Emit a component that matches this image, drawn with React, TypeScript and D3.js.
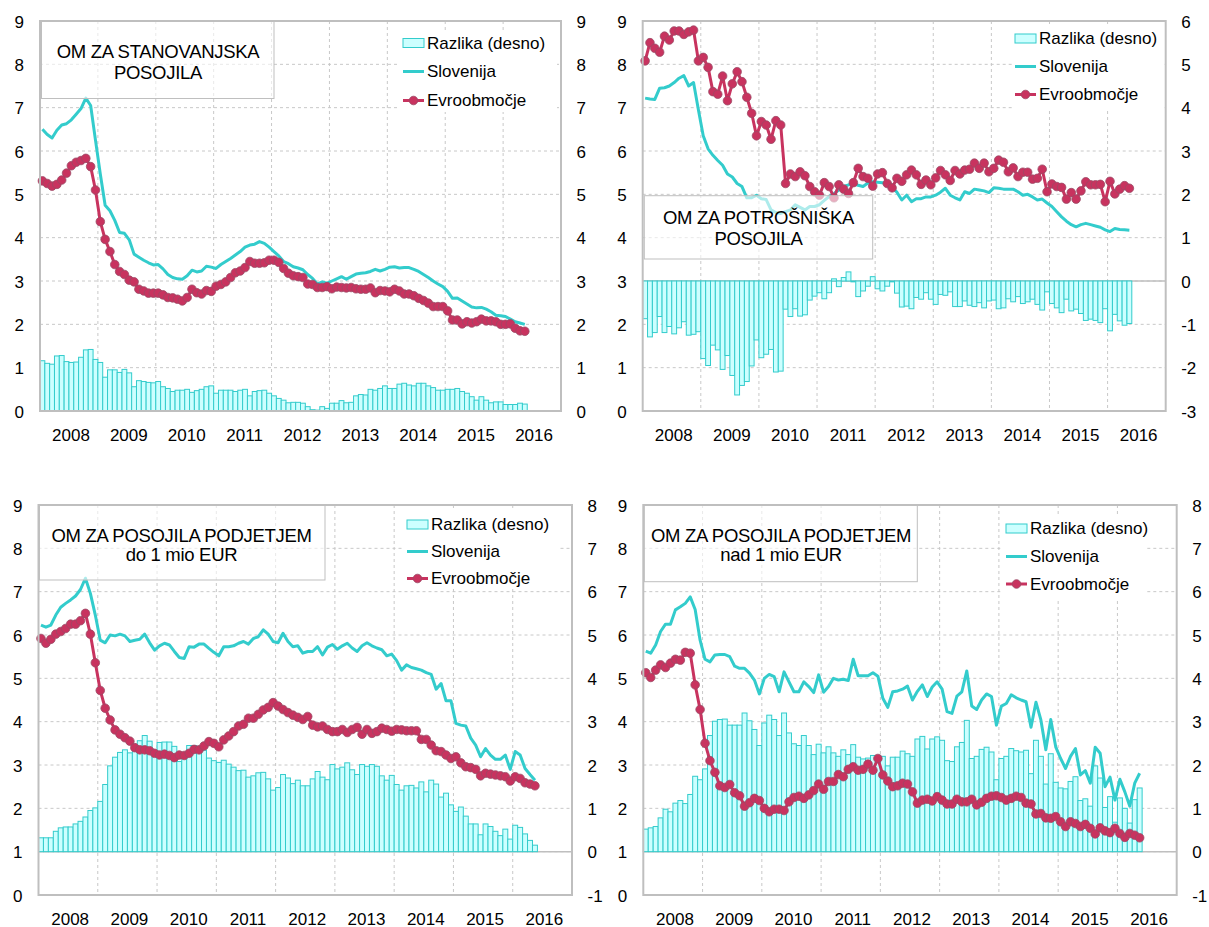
import React from 'react';
import * as d3 from 'd3';

// ---------- categories / ticks ----------
const YEARS = ['2008', '2009', '2010', '2011', '2012', '2013', '2014', '2015', '2016'];
const MONTHS_PER_YEAR = 12;
const LEFT_TICKS = [0, 1, 2, 3, 4, 5, 6, 7, 8, 9];
const RIGHT_TICKS_1 = [0, 1, 2, 3, 4, 5, 6, 7, 8, 9];
const RIGHT_TICKS_2 = [-3, -2, -1, 0, 1, 2, 3, 4, 5, 6];
const RIGHT_TICKS_3 = [-1, 0, 1, 2, 3, 4, 5, 6, 7, 8];
const RIGHT_TICKS_4 = [-1, 0, 1, 2, 3, 4, 5, 6, 7, 8];
const LEGEND_LABELS = ['Razlika (desno)', 'Slovenija', 'Evroobmočje'];
const TITLE_1 = ['OM ZA STANOVANJSKA', 'POSOJILA'];
const TITLE_2 = ['OM ZA POTROŠNIŠKA', 'POSOJILA'];
const TITLE_3 = ['OM ZA POSOJILA PODJETJEM', 'do 1 mio EUR'];
const TITLE_4 = ['OM ZA POSOJILA PODJETJEM', 'nad 1 mio EUR'];

// ---------- panel 1: stanovanjska posojila (Jan 2008 - May 2016) ----------
const P1_SLO = [6.50, 6.38, 6.30, 6.48, 6.60, 6.63, 6.72, 6.85, 6.98, 7.22, 7.05, 6.25, 5.47, 4.75, 4.62, 4.40, 4.12, 4.10, 3.95, 3.62,
  3.55, 3.48, 3.42, 3.37, 3.38, 3.28, 3.15, 3.08, 3.05, 3.04, 3.12, 3.25, 3.21, 3.23, 3.34, 3.32, 3.29, 3.38, 3.45, 3.52,
  3.60, 3.68, 3.78, 3.83, 3.85, 3.91, 3.87, 3.78, 3.68, 3.58, 3.45, 3.40, 3.33, 3.30, 3.26, 3.15, 3.06, 2.93, 2.98, 2.95,
  3.00, 3.05, 3.10, 3.04, 3.10, 3.16, 3.18, 3.19, 3.22, 3.27, 3.23, 3.27, 3.32, 3.33, 3.30, 3.31, 3.31, 3.27, 3.22, 3.15,
  3.08, 3.00, 2.93, 2.87, 2.76, 2.60, 2.61, 2.54, 2.47, 2.40, 2.38, 2.39, 2.35, 2.29, 2.21, 2.20, 2.18, 2.12, 2.06, 2.03, 2.00];
const P1_EVRO = [5.31, 5.25, 5.19, 5.23, 5.33, 5.49, 5.66, 5.74, 5.78, 5.83, 5.64, 5.10, 4.37, 3.96, 3.68, 3.38, 3.22, 3.15, 3.02, 2.98,
  2.81, 2.77, 2.72, 2.72, 2.72, 2.68, 2.62, 2.61, 2.58, 2.54, 2.62, 2.81, 2.73, 2.70, 2.78, 2.76, 2.88, 2.92, 2.98, 3.08,
  3.19, 3.23, 3.31, 3.45, 3.41, 3.41, 3.42, 3.48, 3.48, 3.43, 3.29, 3.18, 3.12, 3.10, 3.08, 2.93, 2.92, 2.85, 2.85, 2.87,
  2.82, 2.86, 2.85, 2.84, 2.85, 2.82, 2.81, 2.81, 2.84, 2.73, 2.78, 2.77, 2.75, 2.81, 2.77, 2.70, 2.70, 2.66, 2.60, 2.55,
  2.49, 2.41, 2.41, 2.41, 2.31, 2.10, 2.10, 2.01, 2.06, 2.03, 2.06, 2.12, 2.08, 2.08, 2.06, 2.00, 2.00, 2.01, 1.91, 1.85, 1.84];
const P1_DIFF = [1.16, 1.10, 1.08, 1.27, 1.28, 1.14, 1.12, 1.13, 1.24, 1.41, 1.42, 1.19, 1.12, 0.78, 0.95, 0.95, 0.89, 0.96, 0.88, 0.56,
  0.70, 0.68, 0.66, 0.65, 0.68, 0.56, 0.52, 0.45, 0.48, 0.48, 0.50, 0.43, 0.47, 0.50, 0.56, 0.58, 0.41, 0.48, 0.48, 0.48,
  0.45, 0.48, 0.50, 0.35, 0.45, 0.47, 0.48, 0.41, 0.35, 0.29, 0.25, 0.19, 0.20, 0.20, 0.18, 0.10, 0.03, 0.02, 0.10, 0.06,
  0.18, 0.18, 0.24, 0.19, 0.20, 0.35, 0.38, 0.37, 0.50, 0.48, 0.52, 0.58, 0.52, 0.52, 0.62, 0.64, 0.60, 0.58, 0.64, 0.64,
  0.58, 0.54, 0.48, 0.48, 0.50, 0.50, 0.52, 0.45, 0.41, 0.33, 0.25, 0.33, 0.25, 0.19, 0.21, 0.21, 0.15, 0.15, 0.15, 0.18, 0.16];

// ---------- panel 2: potrošniška posojila ----------
const P2_SLO = [7.22, 7.20, 7.19, 7.45, 7.46, 7.50, 7.58, 7.68, 7.74, 7.50, 7.58, 6.95, 6.35, 6.05, 5.90, 5.78, 5.67, 5.47, 5.40, 5.25,
  5.18, 4.92, 4.92, 4.98, 4.90, 4.88, 4.64, 4.58, 4.56, 4.60, 4.64, 4.76, 4.70, 4.64, 4.72, 4.72, 4.76, 4.86, 4.95, 5.02,
  5.10, 5.18, 5.22, 5.24, 5.21, 5.18, 5.26, 5.29, 5.28, 5.27, 5.22, 5.15, 5.05, 4.87, 4.98, 4.83, 4.90, 4.90, 4.94, 4.94,
  4.98, 5.05, 5.14, 4.98, 4.92, 4.87, 5.06, 5.02, 5.12, 5.10, 5.08, 5.04, 5.15, 5.14, 5.12, 5.12, 5.12, 5.06, 4.98, 5.00,
  4.94, 4.87, 4.89, 4.80, 4.72, 4.60, 4.48, 4.38, 4.30, 4.25, 4.30, 4.33, 4.30, 4.27, 4.24, 4.18, 4.14, 4.21, 4.19, 4.18, 4.17];
const P2_EVRO = [8.08, 8.50, 8.37, 8.28, 8.65, 8.56, 8.77, 8.77, 8.69, 8.75, 8.79, 8.08, 8.16, 7.93, 7.37, 7.31, 7.73, 7.16, 7.55, 7.83,
  7.60, 7.24, 6.87, 6.35, 6.68, 6.60, 6.27, 6.70, 6.60, 5.25, 5.47, 5.41, 5.52, 5.43, 5.18, 5.06, 4.98, 5.27, 5.18, 4.92,
  5.22, 5.12, 5.02, 5.27, 5.60, 5.41, 5.37, 5.19, 5.47, 5.50, 5.25, 5.15, 5.37, 5.30, 5.45, 5.56, 5.45, 5.23, 5.33, 5.22,
  5.38, 5.55, 5.45, 5.32, 5.55, 5.47, 5.56, 5.58, 5.72, 5.60, 5.72, 5.52, 5.60, 5.79, 5.74, 5.52, 5.61, 5.41, 5.51, 5.51,
  5.35, 5.37, 5.58, 5.06, 5.24, 5.18, 5.16, 4.89, 5.04, 4.89, 5.08, 5.29, 5.22, 5.22, 5.23, 4.83, 5.30, 5.01, 5.12, 5.20, 5.14];
const P2_DIFF = [-0.87, -1.29, -1.19, -0.82, -1.19, -1.05, -1.22, -1.08, -0.94, -1.25, -1.23, -1.17, -1.79, -1.95, -1.48, -1.59, -2.04, -1.72, -2.18, -2.63,
  -2.41, -2.32, -1.96, -1.36, -1.77, -1.69, -1.58, -2.10, -2.08, -0.65, -0.82, -0.64, -0.81, -0.78, -0.44, -0.35, -0.27, -0.41, -0.27, 0.05,
  -0.13, 0.08, 0.21, -0.02, -0.36, -0.23, -0.12, 0.10, -0.18, -0.23, -0.12, -0.02, -0.28, -0.60, -0.58, -0.64, -0.38, -0.42, -0.27, -0.42,
  -0.54, -0.31, -0.33, -0.25, -0.59, -0.59, -0.46, -0.56, -0.59, -0.50, -0.62, -0.46, -0.44, -0.64, -0.62, -0.41, -0.48, -0.36, -0.52, -0.48,
  -0.42, -0.54, -0.67, -0.25, -0.52, -0.62, -0.73, -0.42, -0.69, -0.65, -0.75, -0.91, -0.88, -0.91, -0.96, -0.64, -1.15, -0.77, -0.92, -1.02, -0.98];

// ---------- panel 3: posojila podjetjem do 1 mio EUR ----------
const P3_SLO = [6.23, 6.18, 6.23, 6.46, 6.64, 6.73, 6.81, 6.90, 7.05, 7.31, 6.96, 6.46, 5.88, 5.82, 6.00, 5.98, 6.02, 5.98, 5.85, 5.88,
  5.90, 6.02, 5.82, 5.65, 5.75, 5.81, 5.77, 5.62, 5.48, 5.46, 5.73, 5.72, 5.79, 5.79, 5.69, 5.60, 5.52, 5.73, 5.73, 5.75,
  5.81, 5.85, 5.79, 5.92, 5.96, 6.12, 6.02, 5.85, 5.82, 6.04, 5.85, 5.73, 5.75, 5.58, 5.62, 5.62, 5.73, 5.54, 5.72, 5.78,
  5.67, 5.75, 5.81, 5.70, 5.62, 5.75, 5.82, 5.75, 5.70, 5.66, 5.52, 5.56, 5.41, 5.19, 5.31, 5.25, 5.22, 5.19, 5.13, 5.09,
  4.75, 4.88, 4.48, 4.48, 3.96, 3.92, 3.90, 3.62, 3.46, 3.19, 3.38, 3.23, 3.13, 3.13, 3.23, 2.90, 3.31, 3.23, 2.92, 2.78, 2.65];
const P3_EVRO = [5.92, 5.81, 5.90, 6.02, 6.08, 6.15, 6.25, 6.25, 6.33, 6.50, 6.02, 5.36, 4.72, 4.31, 4.04, 3.81, 3.71, 3.63, 3.55, 3.40,
  3.35, 3.35, 3.33, 3.27, 3.23, 3.25, 3.22, 3.17, 3.23, 3.22, 3.27, 3.36, 3.35, 3.44, 3.54, 3.50, 3.42, 3.58, 3.67, 3.77,
  3.90, 3.94, 4.08, 4.08, 4.17, 4.27, 4.33, 4.44, 4.36, 4.28, 4.21, 4.15, 4.10, 4.05, 4.12, 3.92, 3.88, 3.90, 3.82, 3.77,
  3.77, 3.82, 3.75, 3.82, 3.87, 3.71, 3.82, 3.73, 3.77, 3.85, 3.82, 3.78, 3.82, 3.81, 3.79, 3.79, 3.79, 3.59, 3.59, 3.46,
  3.33, 3.31, 3.23, 3.15, 3.19, 3.05, 2.96, 2.94, 2.90, 2.75, 2.81, 2.79, 2.77, 2.75, 2.73, 2.63, 2.73, 2.69, 2.59, 2.56, 2.52];
const P3_DIFF = [0.32, 0.32, 0.32, 0.47, 0.55, 0.57, 0.57, 0.64, 0.70, 0.80, 0.95, 1.01, 1.16, 1.55, 1.98, 2.18, 2.29, 2.35, 2.28, 2.43,
  2.56, 2.68, 2.55, 2.28, 2.52, 2.53, 2.53, 2.43, 2.08, 2.24, 2.45, 2.45, 2.43, 2.34, 2.16, 2.10, 2.06, 2.11, 2.02, 1.95,
  1.87, 1.88, 1.72, 1.75, 1.82, 1.83, 1.68, 1.42, 1.48, 1.78, 1.70, 1.57, 1.65, 1.52, 1.52, 1.68, 1.85, 1.72, 1.66, 2.01,
  1.91, 1.95, 2.05, 1.89, 1.78, 2.01, 1.97, 2.01, 1.97, 1.75, 1.65, 1.76, 1.55, 1.42, 1.52, 1.53, 1.47, 1.61, 1.38, 1.65,
  1.56, 1.26, 1.35, 1.08, 0.93, 1.03, 0.82, 0.64, 0.64, 0.39, 0.64, 0.58, 0.47, 0.37, 0.52, 0.29, 0.61, 0.56, 0.41, 0.26, 0.15];

// ---------- panel 4: posojila podjetjem nad 1 mio EUR ----------
const P4_SLO = [5.63, 5.58, 5.77, 6.08, 6.25, 6.25, 6.58, 6.65, 6.73, 6.88, 6.59, 5.88, 5.44, 5.38, 5.54, 5.55, 5.55, 5.50, 5.28, 5.23,
  5.23, 5.12, 4.96, 4.64, 5.00, 5.09, 5.04, 4.69, 5.15, 4.92, 4.69, 4.69, 4.92, 4.81, 4.67, 5.08, 4.68, 4.81, 5.00, 4.96,
  4.98, 4.95, 5.44, 5.06, 5.06, 5.06, 5.13, 5.05, 4.54, 4.33, 4.69, 4.71, 4.75, 4.82, 4.50, 4.70, 4.85, 4.58, 4.80, 4.92,
  4.75, 4.23, 4.19, 4.59, 4.69, 5.17, 4.36, 4.28, 4.50, 4.64, 4.58, 3.92, 4.36, 4.42, 4.62, 4.55, 4.50, 4.46, 3.87, 4.45,
  4.04, 3.35, 4.05, 3.42, 3.15, 2.92, 3.20, 3.38, 2.77, 2.87, 2.58, 3.41, 3.27, 2.50, 2.72, 2.19, 2.67, 2.38, 2.05, 2.58, 2.81];
const P4_EVRO = [5.13, 5.02, 5.19, 5.31, 5.25, 5.35, 5.44, 5.42, 5.60, 5.58, 4.85, 4.28, 3.50, 3.10, 2.83, 2.52, 2.48, 2.55, 2.36, 2.29,
  2.05, 2.13, 2.23, 2.18, 2.00, 1.92, 1.98, 1.98, 1.95, 2.15, 2.25, 2.28, 2.23, 2.31, 2.41, 2.56, 2.44, 2.62, 2.62, 2.78,
  2.73, 2.90, 2.96, 2.88, 2.90, 3.02, 2.88, 3.15, 2.77, 2.63, 2.50, 2.52, 2.58, 2.56, 2.38, 2.12, 2.19, 2.21, 2.17, 2.27,
  2.19, 2.10, 2.10, 2.21, 2.15, 2.15, 2.21, 2.08, 2.14, 2.23, 2.28, 2.29, 2.25, 2.19, 2.23, 2.28, 2.25, 2.12, 2.10, 1.87,
  1.88, 1.78, 1.77, 1.81, 1.69, 1.58, 1.69, 1.65, 1.58, 1.63, 1.54, 1.41, 1.55, 1.48, 1.44, 1.54, 1.42, 1.33, 1.42, 1.38, 1.32];
const P4_DIFF = [0.52, 0.55, 0.58, 0.78, 0.98, 0.92, 1.12, 1.18, 1.11, 1.32, 1.74, 1.66, 1.91, 2.68, 3.01, 3.05, 3.06, 2.92, 2.92, 2.92,
  3.20, 3.02, 2.82, 2.45, 2.97, 3.15, 3.05, 2.68, 3.20, 2.74, 2.49, 2.45, 2.68, 2.45, 2.24, 2.48, 2.28, 2.42, 2.28, 2.20,
  2.35, 2.24, 2.47, 2.18, 2.14, 2.16, 2.22, 2.22, 2.20, 1.98, 2.18, 2.18, 2.32, 2.26, 2.20, 2.60, 2.66, 2.37, 2.60, 2.65,
  2.57, 2.10, 2.08, 2.42, 2.52, 3.03, 2.15, 2.20, 2.36, 2.41, 2.30, 1.66, 2.15, 2.20, 2.38, 2.33, 2.30, 2.34, 1.80, 2.57,
  2.20, 1.56, 2.26, 1.60, 1.47, 1.45, 1.62, 1.73, 1.18, 1.22, 1.05, 1.98, 1.70, 1.02, 1.27, 0.68, 1.24, 1.00, 0.66, 1.20, 1.47];

// ---------- styling ----------
const FONT = '"Liberation Sans", Arial, sans-serif';
const C_SLO = '#33CCCC';
const C_EVRO = '#C8335F';
const C_BAR_FILL = '#CCFFFF';
const C_BAR_STROKE = '#33CCCC';
const C_GRID = '#C8C8C8';
const C_BORDER = '#BFBFBF';

const PANELS = [
  {
    l: 40, r: 561, t: 21, b: 411, rightTicks: RIGHT_TICKS_1,
    slo: P1_SLO, evro: P1_EVRO, diff: P1_DIFF, title: TITLE_1,
    titleBox: [41.5, 21, 274, 98.5], titleX: 158, titleY: [51.5, 72],
    legendBg: [400, 30, 557, 112], legendX: 403, legendY: [43, 71.5, 100.5],
  },
  {
    l: 642.7, r: 1165.7, t: 21, b: 411, rightTicks: RIGHT_TICKS_2,
    slo: P2_SLO, evro: P2_EVRO, diff: P2_DIFF, title: TITLE_2,
    titleBox: [644.3, 195.7, 872.7, 259], titleX: 758.5, titleY: [217.5, 238],
    legendBg: [1012, 26, 1162, 110], legendX: 1015, legendY: [38.5, 66.5, 94.5],
  },
  {
    l: 38.5, r: 572, t: 505, b: 895, rightTicks: RIGHT_TICKS_3,
    slo: P3_SLO, evro: P3_EVRO, diff: P3_DIFF, title: TITLE_3,
    titleBox: [39.5, 505, 325, 580], titleX: 181.5, titleY: [535, 554.5],
    legendBg: [404, 511, 558, 589], legendX: 407, legendY: [524.5, 551.5, 578.5],
  },
  {
    l: 643.3, r: 1176.7, t: 505, b: 895, rightTicks: RIGHT_TICKS_4,
    slo: P4_SLO, evro: P4_EVRO, diff: P4_DIFF, title: TITLE_4,
    titleBox: [644.3, 505, 917.3, 581.7], titleX: 781, titleY: [535, 554.5],
    legendBg: [1003, 515, 1147, 598], legendX: 1006, legendY: [528.5, 556.5, 584],
  },
];

function Panel({ p }: { p: any }) {
  const nSlots = YEARS.length * MONTHS_PER_YEAR;
  const x = d3.scaleBand<number>().domain(d3.range(nSlots)).range([p.l, p.r]).paddingInner(0).paddingOuter(0);
  const bw = x.bandwidth();
  const cx = (i: number) => (x(i) as number) + bw / 2;
  const yL = d3.scaleLinear().domain([LEFT_TICKS[0], LEFT_TICKS[LEFT_TICKS.length - 1]]).range([p.b, p.t]);
  const rt = p.rightTicks;
  const yR = d3.scaleLinear().domain([rt[0], rt[rt.length - 1]]).range([p.b, p.t]);
  const line = d3.line<number>().x((_, i) => cx(i)).y((d) => yL(d));
  const swW = 21;
  const lg = p.legendBg;
  const tb = p.titleBox;

  return (
    <g>
      {LEFT_TICKS.slice(1, -1).map((t) => (
        <line key={'h' + t} x1={p.l} x2={p.r} y1={yL(t)} y2={yL(t)} stroke={C_GRID} strokeWidth={1} strokeDasharray="3,3" />
      ))}
      {YEARS.slice(1).map((_, k) => {
        const xx = x((k + 1) * MONTHS_PER_YEAR) as number;
        return <line key={'v' + k} x1={xx} x2={xx} y1={p.t} y2={p.b} stroke={C_GRID} strokeWidth={1} strokeDasharray="3,3" />;
      })}
      <line x1={p.l} x2={p.r} y1={yR(0)} y2={yR(0)} stroke={C_BORDER} strokeWidth={1.5} />
      {p.diff.map((d: number, i: number) => {
        const y0 = yR(0);
        const y1 = yR(d);
        return (
          <rect key={'b' + i} x={(x(i) as number)} y={Math.min(y0, y1)} width={bw} height={Math.abs(y1 - y0)}
            fill={C_BAR_FILL} stroke={C_BAR_STROKE} strokeWidth={1} />
        );
      })}
      <path d={line(p.slo) as string} fill="none" stroke={C_SLO} strokeWidth={3} strokeLinejoin="round" />
      <path d={line(p.evro) as string} fill="none" stroke={C_EVRO} strokeWidth={3} strokeLinejoin="round" />
      {p.evro.map((d: number, i: number) => (
        <circle key={'m' + i} cx={cx(i)} cy={yL(d)} r={4.3} fill={C_EVRO} stroke="#9A4A66" strokeWidth={0.8} />
      ))}
      <rect x={tb[0]} y={tb[1]} width={tb[2] - tb[0]} height={tb[3] - tb[1]} fill="#FFFFFF" fillOpacity={0.6} stroke={C_BORDER} strokeWidth={1} />
      {p.title.map((s: string, k: number) => (
        <text key={'t' + k} x={p.titleX} y={p.titleY[k]} textAnchor="middle" dominantBaseline="central"
          fontFamily={FONT} fontSize={18.5} letterSpacing={-0.3} fill="#000">{s}</text>
      ))}
      <rect x={lg[0]} y={lg[1]} width={lg[2] - lg[0]} height={lg[3] - lg[1]} fill="#FFFFFF" />
      <rect x={p.legendX} y={p.legendY[0] - 4.5} width={swW} height={9} fill={C_BAR_FILL} stroke={C_BAR_STROKE} strokeWidth={1} />
      <line x1={p.legendX} x2={p.legendX + swW} y1={p.legendY[1]} y2={p.legendY[1]} stroke={C_SLO} strokeWidth={3} />
      <line x1={p.legendX} x2={p.legendX + swW} y1={p.legendY[2]} y2={p.legendY[2]} stroke={C_EVRO} strokeWidth={3} />
      <circle cx={p.legendX + swW / 2} cy={p.legendY[2]} r={4.3} fill={C_EVRO} stroke="#9A4A66" strokeWidth={0.8} />
      {LEGEND_LABELS.map((s, k) => (
        <text key={'l' + k} x={p.legendX + swW + 3} y={p.legendY[k]} dominantBaseline="central"
          fontFamily={FONT} fontSize={17} fill="#000">{s}</text>
      ))}
      <rect x={p.l} y={p.t} width={p.r - p.l} height={p.b - p.t} fill="none" stroke={C_BORDER} strokeWidth={2} />
      {LEFT_TICKS.map((t) => (
        <text key={'yl' + t} x={p.l - 16} y={yL(t) + 1} textAnchor="end" dominantBaseline="central"
          fontFamily={FONT} fontSize={17} fill="#000">{t}</text>
      ))}
      {rt.map((t: number) => (
        <text key={'yr' + t} x={p.r + 15.5} y={yR(t) + 1} textAnchor="start" dominantBaseline="central"
          fontFamily={FONT} fontSize={17} fill="#000">{t}</text>
      ))}
      {YEARS.map((yStr, k) => {
        const xm = (x(k * MONTHS_PER_YEAR) as number) + bw * MONTHS_PER_YEAR / 2 + 2;
        return (
          <text key={'x' + k} x={xm} y={p.b + 24} textAnchor="middle" dominantBaseline="central"
            fontFamily={FONT} fontSize={17} fill="#000">{yStr}</text>
        );
      })}
    </g>
  );
}

export default function App() {
  return (
    <svg width={1209} height={927} style={{ position: 'absolute', left: 0, top: 0, background: '#fff' }}>
      <rect x={0} y={0} width={1209} height={927} fill="#fff" />
      {PANELS.map((p, i) => (
        <Panel key={i} p={p} />
      ))}
    </svg>
  );
}
